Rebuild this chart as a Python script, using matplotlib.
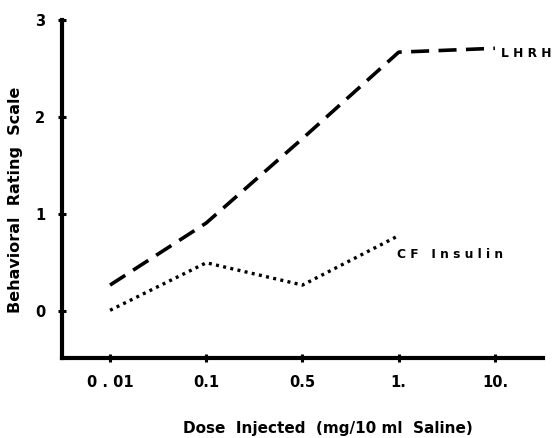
import matplotlib
matplotlib.use("Agg")
import matplotlib.pyplot as plt

doses = ["0.01", "0.1", "0.5", "1.", "10."]
tick_labels = ["0 . 01", "0.1", "0.5", "1.", "10."]
lhrh = [0.27, 0.91, 1.78, 2.67, 2.71]
insulin = [0.01, 0.50, 0.27, 0.78]
yticks = [0, 1, 2, 3]

plt.rcParams['font.family'] = ['DejaVu Sans']
plt.rcParams['font.weight'] = 'bold'

fig = plt.figure(figsize=(5.53, 4.38), dpi=100)
ax = fig.add_axes([0.112, 0.183, 0.870, 0.771])

x = list(range(len(doses)))
ax.plot(x, lhrh, color='black', lw=2.6, dashes=(5, 2.6), solid_capstyle='butt')
ax.plot(x[:len(insulin)], insulin, color='black', lw=2.4, dashes=(0.9, 1.3))

ax.set_xlim(-0.5, 4.5)
ax.set_ylim(-0.48, 3.0)
ax.set_xticks(x)
ax.set_xticklabels(tick_labels)
ax.set_yticks(yticks)
ax.set_yticklabels([str(v) for v in yticks])

for s in ['top', 'right']:
    ax.spines[s].set_visible(False)
for s in ['left', 'bottom']:
    ax.spines[s].set_linewidth(3)
ax.tick_params(direction='inout', length=6, width=2.2, labelsize=10.5, pad=9)
for lab in ax.get_xticklabels() + ax.get_yticklabels():
    lab.set_fontweight('bold')

ax.text(4.06, 2.66, "L H R H", fontsize=8.8, fontweight='bold', va='center', ha='left')
ax.text(2.98, 0.58, "C F   I n s u l i n", fontsize=8.8, fontweight='bold', va='center', ha='left')

fig.text(0.028, 0.543, "Behavioral  Rating  Scale", rotation=90, fontsize=11.5,
         fontweight='bold', va='center', ha='center')
fig.text(0.593, 0.005, "Dose  Injected  (mg/10 ml  Saline)", fontsize=11,
         fontweight='bold', va='bottom', ha='center')

fig.savefig("out.png", dpi=100)
